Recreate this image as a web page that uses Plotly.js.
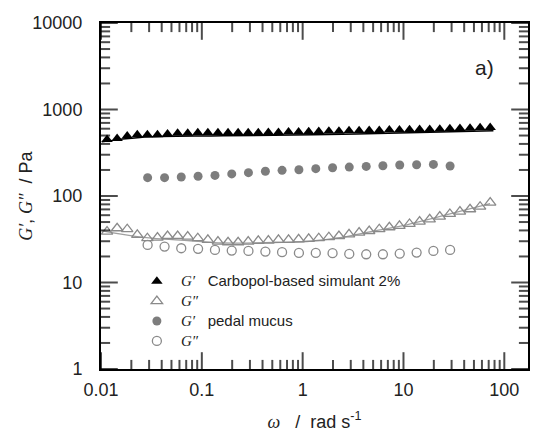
<!DOCTYPE html>
<html>
<head>
<meta charset="utf-8">
<script src="https://cdn.plot.ly/plotly-3.0.1.min.js"></script>
<style>html,body{margin:0;padding:0;background:#fff;}#chart{width:535px;height:432px;}</style>
</head>
<body>
<div id="chart"></div>
<script>
// G' Carbopol-based simulant 2% (filled black triangles)
const carbopolX = [0.01148,0.01445,0.01820,0.02291,0.02884,0.03631,0.04571,0.05754,0.07244,0.09120,
  0.1148,0.1445,0.1820,0.2291,0.2884,0.3631,0.4571,0.5754,0.7244,0.9120,
  1.148,1.445,1.820,2.291,2.884,3.631,4.571,5.754,7.244,9.120,
  11.48,14.45,18.20,22.91,28.84,36.31,45.71,57.54,72.44];
const carbopolGp = [451,463,493,510,510,510,520,530,533,538,
  538,538,538,538,538,538,543,543,548,548,
  552,558,562,562,567,567,573,573,578,578,
  582,589,589,593,598,604,609,614,621];
// G'' Carbopol-based simulant 2% (open triangles)
const carbopolGpp = [38.7,42.4,41.3,35.5,32.5,33.0,34.5,34.5,33.9,32.5,
  31.1,29.7,29.2,29.2,29.7,30.3,30.5,31.1,31.1,31.6,
  31.9,32.5,33.4,34.5,36.1,37.8,39.4,41.3,43.5,45.1,
  47.5,50.5,53.8,57.7,62.0,65.9,70.3,75.2,83.7];
// fitted curves drawn under the Carbopol points
const carbopolGpFitX = [0.0102,0.0244,0.163,3.44,78];
const carbopolGpFitY = [423,476,497,520,567];
const carbopolGppFitX = [0.0102,0.0263,0.0764,0.163,0.512,1.10,2.35,5.02,10.8,23.1,72.3];
const carbopolGppFitY = [39.5,33.2,30.4,28.6,29.0,29.8,33.0,39.3,46.5,58.0,81.5];
// pedal mucus
const mucusX = [0.0290,0.0427,0.0625,0.0918,0.135,0.198,0.290,0.427,0.625,0.918,
  1.35,1.98,2.90,4.27,6.25,9.18,13.5,19.8,29.0];
const mucusGp = [163,163,166,169,173,180,186,193,198,201,207,212,216,220,224,228,230,232,222];
const mucusGpp = [27.2,26.0,24.9,24.5,23.8,23.4,23.2,22.8,22.4,22.0,22.0,21.8,21.4,21.2,21.2,21.6,22.2,23.2,23.8];

const xTickVals = [0.01,0.1,1,10,100];
const xTickText = ['0.01','0.1','1','10','100'];
const yTickVals = [1,10,100,1000,10000];
const yTickText = ['1','10','100','1000','10000'];
const xRange = [-2, 2.235];
const yRange = [0, 4];

function minorVals(lo, hi) {
  const out = [];
  for (let e = lo; e < hi; e++) for (let m = 2; m <= 9; m++) out.push(m * Math.pow(10, e));
  return out;
}

const serif = "'Liberation Serif','Times New Roman',serif";
const G = (s) => `<span style="font-family:${serif}"><i>${s}</i></span>`;
const L = (s) => `<span style="font-size:15px">${s}</span>`;
const NB = '\u00a0';

// inside tick marks on all four sides: line markers sitting on the frame, clipped to the plot area
const xMinor = minorVals(-2, 2), yMinor = minorVals(0, 4);
const xAll = xTickVals.concat(xMinor), yAll = yTickVals.concat(yMinor);
const xSizes = xTickVals.map(() => 24).concat(xMinor.map(() => 13));
const ySizes = yTickVals.map(() => 24).concat(yMinor.map(() => 13));
const xLo = Math.pow(10, xRange[0]), xHi = Math.pow(10, xRange[1]);
const yLo = Math.pow(10, yRange[0]), yHi = Math.pow(10, yRange[1]);
function tickTrace(xs, ys, sym, sizes) {
  return {x: xs, y: ys, mode:'markers', showlegend:false, hoverinfo:'skip', cliponaxis:true,
    marker:{symbol:sym, size:sizes, color:'#000', line:{color:'#000', width:2}}};
}

const traces = [
  {x: carbopolGpFitX, y: carbopolGpFitY, mode:'lines', line:{color:'#000', width:1.5, shape:'spline'}, showlegend:false, hoverinfo:'skip'},
  {x: carbopolGppFitX, y: carbopolGppFitY, mode:'lines', line:{color:'#a0a0a0', width:1.3, shape:'spline'}, showlegend:false, hoverinfo:'skip'},
  {x: carbopolX, y: carbopolGp, mode:'markers', name: L(NB + G('G′') + NB + NB + NB + 'Carbopol-based simulant 2%'),
   marker:{symbol:'triangle-up', size:10, color:'#000', line:{width:0}}},
  {x: carbopolX, y: carbopolGpp, mode:'markers', name: L(NB + G('G″')),
   marker:{symbol:'triangle-up-open', size:10, color:'#8a8a8a', line:{width:1.3}}},
  {x: mucusX, y: mucusGp, mode:'markers', name: L(NB + G('G′') + NB + NB + NB + 'pedal mucus'),
   marker:{symbol:'circle', size:9, color:'#7d7d7d', line:{width:0}}},
  {x: mucusX, y: mucusGpp, mode:'markers', name: L(NB + G('G″')),
   marker:{symbol:'circle-open', size:9, color:'#8a8a8a', line:{width:1.3}}},
  tickTrace(xAll, xAll.map(() => yLo), 'line-ns-open', xSizes),
  tickTrace(xAll, xAll.map(() => yHi), 'line-ns-open', xSizes),
  tickTrace(yAll.map(() => xLo), yAll, 'line-ew-open', ySizes),
  tickTrace(yAll.map(() => xHi), yAll, 'line-ew-open', ySizes)
];

const tickFont = {family:"'Liberation Sans',Arial,sans-serif", size:18, color:'#222'};

const layout = {
  width:535, height:432,
  margin:{l:101, r:7, t:23, b:63},
  paper_bgcolor:'#fff', plot_bgcolor:'#fff',
  font:{family:"'Liberation Sans',Arial,sans-serif", color:'#222'},
  xaxis: {
    type:'log', range:xRange, showgrid:false, zeroline:false, showline:true, linecolor:'#000', linewidth:2,
    mirror:true, ticks:'', tickmode:'array', tickvals:xTickVals, ticktext:xTickText, tickfont:tickFont,
    ticklabelstandoff:3,
    title:{text: G('ω') + '   /  rad s<sup>-1</sup>', font:{size:18, color:'#222'}, standoff:21}
  },
  yaxis: {
    type:'log', range:yRange, showgrid:false, zeroline:false, showline:true, linecolor:'#000', linewidth:2,
    mirror:true, ticks:'', tickmode:'array', tickvals:yTickVals, ticktext:yTickText, tickfont:tickFont,
    ticklabelstandoff:13
  },
  legend:{x:0.084, y:0.297, xanchor:'left', yanchor:'top', bgcolor:'rgba(0,0,0,0)',
    font:{size:13, color:'#222'}, tracegroupgap:0, itemwidth:30},
  annotations:[
    {x:0.925, y:0.91, xref:'paper', yref:'paper', text:'a)', showarrow:false,
     font:{size:21, color:'#222'}},
    {x:-0.176, y:0.5, xref:'paper', yref:'paper', text: G('G′') + ', ' + G('G″') + '  / Pa', textangle:-90,
     showarrow:false, xanchor:'center', yanchor:'middle', font:{size:18, color:'#222'}}
  ]
};

Plotly.newPlot('chart', traces, layout, {displayModeBar:false, staticPlot:true});
</script>
</body>
</html>
